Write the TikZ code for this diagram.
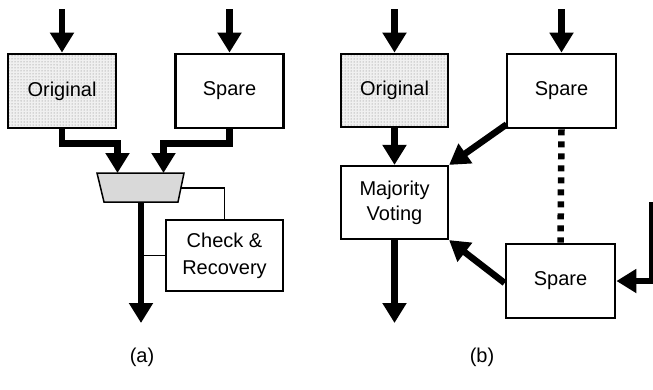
\documentclass[tikz,border=0pt]{standalone}
\usepackage{fontspec}
\setmainfont{Liberation Sans}
\usepackage{xcolor}
\definecolor{muxgray}{RGB}{217,217,217}
\definecolor{dotgray}{RGB}{120,120,120}
\definecolor{dotback}{RGB}{240,240,240}
\usetikzlibrary{arrows.meta,positioning,shapes.geometric,patterns,calc}

\begin{document}
\begin{tikzpicture}[x=1pt,y=-1pt,
  font=\fontsize{20}{25}\selectfont,
  block/.style={draw,line width=2.8pt,minimum width=108pt,minimum height=74pt,align=center,inner sep=0pt},
  orig/.style={block,preaction={fill=dotback},pattern=dots,pattern color=dotgray},
  thinbox/.style={draw,line width=1.5pt,minimum width=117pt,minimum height=71pt,align=center,inner sep=0pt},
  flow/.style={line width=6.5pt,-{Triangle[length=20pt,width=23pt]}},
  wire/.style={line width=1.5pt},
  dotlink/.style={line width=6.5pt,dash pattern=on 6pt off 6pt}]
  \useasboundingbox (0,0) rectangle (653,389);
  % Panel (a): spare with check
  \node[orig] (orgA) at (62,91) {Original};
  \node[block] (spareA) at (229.5,91) {Spare};
  \node[thinbox] (chk) at (224.5,255.5) {Check \&\\[2pt]Recovery};
  % selector
  \draw[line width=1.5pt,fill=muxgray] (97,173) -- (184,173) -- (178,202) -- (104,202) -- cycle;
  \coordinate (muxL) at (117.5,173);
  \coordinate (muxR) at (163.5,173);
  \coordinate (muxS) at (181,188);
  \coordinate (muxO) at (141,202);
  \coordinate (inA1) at (62,9);
  \coordinate (inA2) at (229.5,9);
  \coordinate (outA) at (141,323);
  \draw[flow] (inA1) -- (orgA.north);
  \draw[flow] (inA2) -- (spareA.north);
  \draw[flow] (orgA.south) -- ++(0,14) -| (muxL);
  \draw[flow] (spareA.south) -- ++(0,14) -| (muxR);
  \draw[flow] (muxO) -- (outA);
  \draw[wire] (muxS) -| (chk.north);
  \draw[wire] (chk.west) -- (chk.west -| outA);
  \node (labA) at (142,357) {(a)};
  % Panel (b): majority voting
  \node[orig,minimum width=107pt,minimum height=73pt] (orgB) at (394.5,90.5) {Original};
  \node[block,minimum width=109pt] (spareB1) at (561.5,91) {Spare};
  \node[block,line width=2.2pt,minimum width=107pt,minimum height=73pt] (vote) at (394.5,202.5) {Majority\\Voting};
  \node[block,minimum width=109pt] (spareB2) at (560.5,281) {Spare};
  \coordinate (inB1) at (394.5,9);
  \coordinate (inB2) at (561.5,9);
  \coordinate (feedB) at (652,202);
  \coordinate (outB) at (394.5,323);
  \draw[flow] (inB1) -- (orgB.north);
  \draw[flow] (inB2) -- (spareB1.north);
  \draw[flow] (orgB.south) -- (vote.north);
  \draw[flow] ($(spareB1.south west)+(1,-5)$) -- (vote.north east);
  \draw[flow] ($(spareB2.west)+(0,2)$) -- (vote.south east);
  \draw[dotlink] (spareB1.south) -- (spareB2.north);
  \draw[flow] (feedB) |- (spareB2.east);
  \draw[flow] (vote.south) -- (outB);
  \node (labB) at (482,357) {(b)};
\end{tikzpicture}
\end{document}
